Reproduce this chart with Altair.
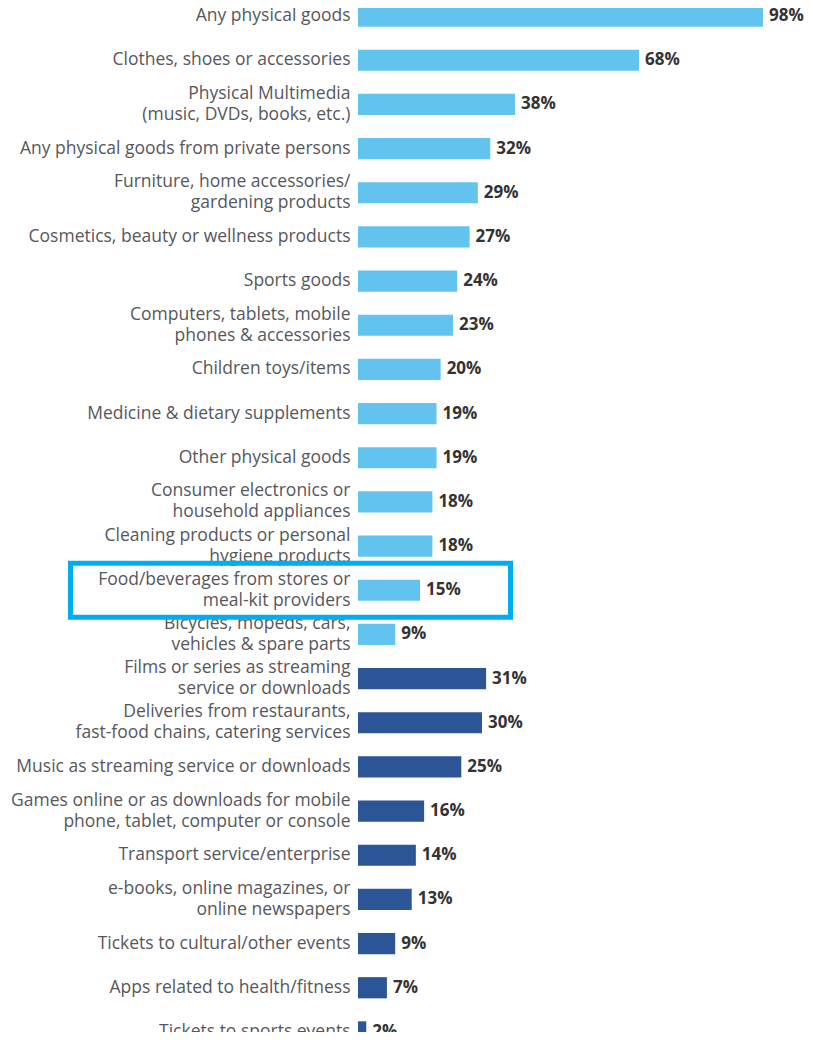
import altair as alt
import pandas as pd

categories = [
    "Any physical goods",
    "Clothes, shoes or accessories",
    "Physical Multimedia|(music, DVDs, books, etc.)",
    "Any physical goods from private persons",
    "Furniture, home accessories/|gardening products",
    "Cosmetics, beauty or wellness products",
    "Sports goods",
    "Computers, tablets, mobile|phones & accessories",
    "Children toys/items",
    "Medicine & dietary supplements",
    "Other physical goods",
    "Consumer electronics or|household appliances",
    "Cleaning products or personal|hygiene products",
    "Food/beverages from stores or|meal-kit providers",
    "Bicycles, mopeds, cars,|vehicles & spare parts",
    "Films or series as streaming|service or downloads",
    "Deliveries from restaurants,|fast-food chains, catering services",
    "Music as streaming service or downloads",
    "Games online or as downloads for mobile|phone, tablet, computer or console",
    "Transport service/enterprise",
    "e-books, online magazines, or|online newspapers",
    "Tickets to cultural/other events",
    "Apps related to health/fitness",
    "Tickets to sports events",
]
values = [98, 68, 38, 32, 29, 27, 24, 23, 20, 19, 19, 18, 18, 15, 9,
          31, 30, 25, 16, 14, 13, 9, 7, 2]
groups = ["Physical goods"] * 15 + ["Digital goods & services"] * 9
highlight = ["Food/beverages from stores or|meal-kit providers"]

df = pd.DataFrame({"cat": categories, "value": values, "group": groups})
df["label"] = df["value"].astype(str) + "%"
hl = pd.DataFrame({"cat": highlight})

FONT = "Open Sans"

y_enc = alt.Y(
    "cat:N",
    sort=categories,
    scale=alt.Scale(range=[-14, 1046], paddingInner=0.52, paddingOuter=0.26),
    axis=alt.Axis(
        title=None, domain=False, ticks=False, grid=False,
        labelExpr="split(datum.label, '|')",
        labelFont=FONT, labelFontSize=17.5, labelColor="#56575c",
        labelLineHeight=21, labelPadding=8, labelLimit=400,
        labelOffset={"condition": {"test": "indexof(datum.label, '|') >= 0",
                                   "value": -10.5},
                     "value": 0},
    ),
)

# 98 % spans 405 px
x_scale = alt.Scale(domain=[0, 98])

bars = alt.Chart(df).mark_bar().encode(
    y=y_enc,
    x=alt.X("value:Q", scale=x_scale, axis=None),
    color=alt.Color(
        "group:N",
        scale=alt.Scale(domain=["Physical goods", "Digital goods & services"],
                        range=["#62C3EE", "#2B5597"]),
        legend=None,
    ),
)

text = alt.Chart(df).mark_text(
    align="left", baseline="middle", dx=6, font=FONT, fontSize=17,
    fontWeight="bold", color="#333333",
).encode(
    y=alt.Y("cat:N", sort=categories),
    x=alt.X("value:Q", scale=x_scale, axis=None),
    text="label:N",
)

box = alt.Chart(hl).mark_bar(
    height=54, fillOpacity=0, stroke="#00AEEF", strokeWidth=5,
).encode(
    y=alt.Y("cat:N", sort=categories),
    x=alt.value(-287.5),
    x2=alt.value(152.5),
)

chart = (
    alt.layer(bars, text, box)
    .properties(
        width=405, height=1024,
        autosize=alt.AutoSizeParams(type="none"),
        padding={"left": 350, "top": 0, "right": 42, "bottom": 0},
    )
    .configure(background="white")
    .configure_view(stroke="transparent", strokeWidth=0)
    .configure_axis(grid=False)
)

chart.save("out.html", embed_options={"renderer": "svg", "actions": False})
